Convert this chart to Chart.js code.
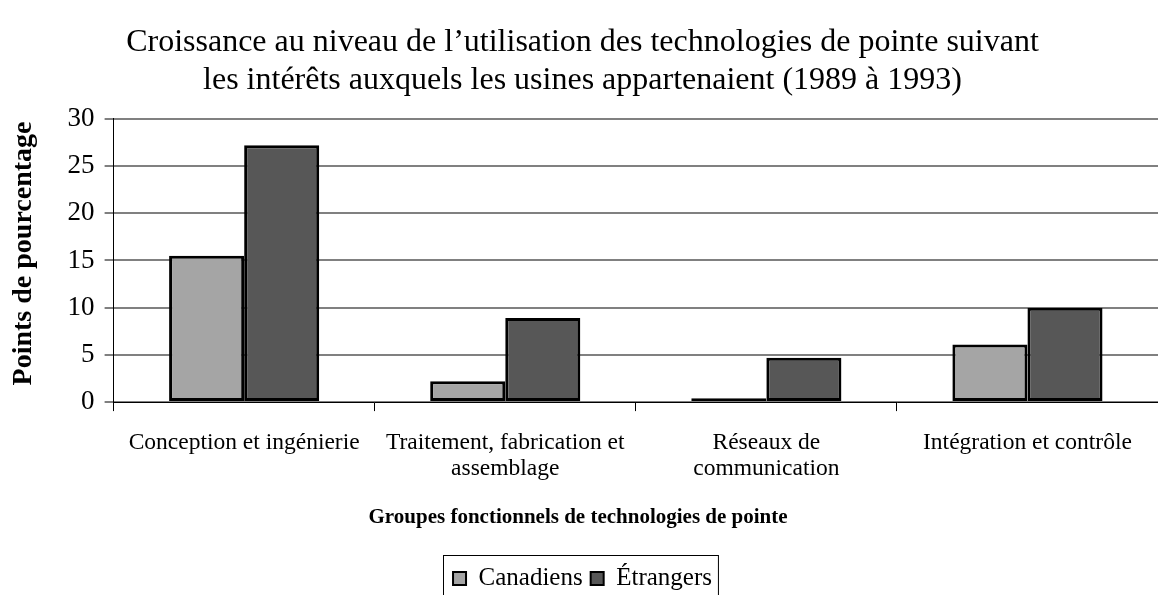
<!DOCTYPE html>
<html>
<head>
<meta charset="utf-8">
<script src="https://cdn.jsdelivr.net/npm/chart.js@4/dist/chart.umd.min.js"></script>
<style>
  html, body { margin: 0; padding: 0; background: #fff; }
  #wrap { width: 1158px; height: 595px; position: relative; }
</style>
</head>
<body>
<div id="wrap"><canvas id="chart"></canvas></div>
<script>
// Data
const categories = [
    'Conception et ingénierie',
    ['Traitement, fabrication et', 'assemblage'],
    ['Réseaux de', 'communication'],
    'Intégration et contrôle'
];
const canadiens = [15.5, 2.2, 0.4, 6.1];
const etrangers = [27.2, 8.9, 4.7, 10.0];
const yTicks = [0, 5, 10, 15, 20, 25, 30];

const serif = "'Liberation Serif', 'Times New Roman', serif";
// non-breaking spaces nudge the axis titles toward the page centre, as in the original
const nbsp = n => '\u00a0'.repeat(n);

// Thin frame around the legend items only (runs off the bottom edge like the original)
const legendFrame = {
    id: 'legendFrame',
    afterDraw(chart) {
        const boxes = chart.legend.legendHitBoxes;
        if (!boxes || !boxes.length) return;
        const left = Math.min(...boxes.map(b => b.left)) - 10;
        const right = Math.max(...boxes.map(b => b.left + b.width)) + 6;
        const top = Math.min(...boxes.map(b => b.top)) - 11;
        const ctx = chart.ctx;
        ctx.save();
        ctx.strokeStyle = '#000';
        ctx.lineWidth = 1;
        ctx.strokeRect(Math.round(left) + 0.5, Math.round(top) + 0.5, right - left, 100);
        ctx.restore();
    }
};

new Chart(document.getElementById('chart'), {
    type: 'bar',
    data: {
        labels: categories,
        datasets: [{
            label: 'Canadiens',
            data: canadiens,
            backgroundColor: '#a5a5a5',
            borderColor: '#000',
            borderWidth: 3,
            borderSkipped: false
        }, {
            label: 'Étrangers',
            data: etrangers,
            backgroundColor: '#575757',
            borderColor: '#000',
            borderWidth: 3,
            borderSkipped: false
        }]
    },
    options: {
        responsive: true,
        maintainAspectRatio: false,
        animation: false,
        categoryPercentage: 0.575,
        barPercentage: 1,
        layout: { padding: { left: 7, right: 0, top: 23, bottom: -6 } },
        plugins: {
            title: {
                display: true,
                text: [
                    'Croissance au niveau de l\u2019utilisation des technologies de pointe suivant',
                    'les intérêts auxquels les usines appartenaient (1989 à 1993)'
                ],
                color: '#000',
                font: { family: serif, size: 32, weight: 'normal', lineHeight: 1.2 },
                padding: { top: 0, bottom: 19 }
            },
            legend: {
                position: 'bottom',
                labels: {
                    color: '#000',
                    font: { family: serif, size: 25 },
                    boxWidth: 13,
                    boxHeight: 13,
                    padding: 8,
                    useBorderRadius: false,
                    generateLabels(chart) {
                        return chart.data.datasets.map((ds, i) => ({
                            text: ds.label,
                            fillStyle: ds.backgroundColor,
                            strokeStyle: '#000',
                            lineWidth: 2,
                            fontColor: '#000',
                            hidden: false,
                            datasetIndex: i
                        }));
                    }
                }
            },
            tooltip: { enabled: false }
        },
        scales: {
            x: {
                grid: {
                    display: true,
                    drawOnChartArea: false,
                    drawTicks: true,
                    tickLength: 9,
                    color: '#000',
                    offset: true
                },
                border: { color: '#000', width: 1 },
                ticks: {
                    color: '#000',
                    font: { family: serif, size: 23.5, lineHeight: 1.1 },
                    maxRotation: 0,
                    autoSkip: false,
                    padding: 19
                },
                title: {
                    display: true,
                    text: 'Groupes fonctionnels de technologies de pointe' + nbsp(22),
                    color: '#000',
                    font: { family: serif, size: 21, weight: 'bold', lineHeight: 1.2 },
                    padding: { top: 4, bottom: 28 }
                }
            },
            y: {
                min: 0,
                max: 30,
                afterBuildTicks(axis) {
                    axis.ticks = yTicks.map(v => ({ value: v }));
                },
                grid: {
                    color: '#808080',
                    lineWidth: 2,
                    tickLength: 9,
                    tickColor: '#000',
                    tickWidth: 1
                },
                border: { color: '#000', width: 1 },
                ticks: {
                    color: '#000',
                    font: { family: serif, size: 27 },
                    padding: 10
                },
                title: {
                    display: true,
                    text: nbsp(2) + 'Points de pourcentage',
                    color: '#000',
                    font: { family: serif, size: 28, weight: 'bold' },
                    padding: { top: 0, bottom: 17 }
                }
            }
        }
    },
    plugins: [legendFrame]
});
</script>
</body>
</html>
